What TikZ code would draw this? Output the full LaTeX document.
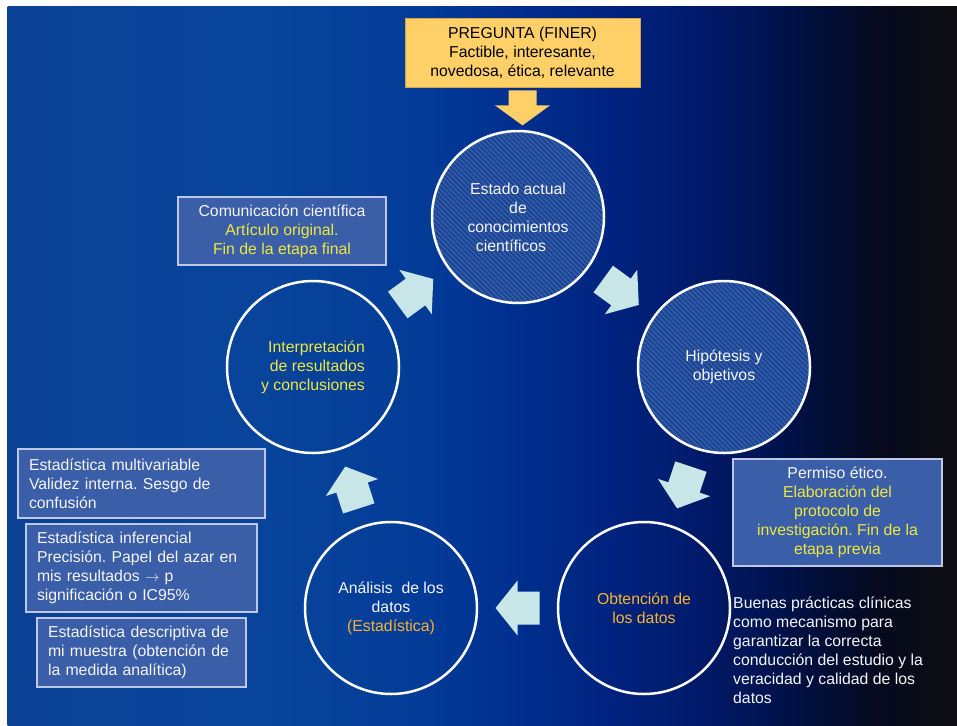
\documentclass[tikz,border=0pt]{standalone}
\usepackage{fontspec}
\setmainfont{Liberation Sans}
\frenchspacing
\usetikzlibrary{calc}
\definecolor{boxfill}{RGB}{58,94,167}
\definecolor{boxline}{RGB}{190,200,228}
\definecolor{ylw}{RGB}{238,232,64}
\definecolor{org}{RGB}{245,180,50}
\definecolor{qfill}{RGB}{255,208,104}
\definecolor{qline}{RGB}{215,165,70}
\definecolor{arrowc}{RGB}{200,230,232}
\definecolor{hatchfill}{RGB}{24,68,150}
\definecolor{txtw}{RGB}{245,245,250}
\newcommand\bgseg[4]{%
  \definecolor{segL}{RGB}{#3}\definecolor{segR}{RGB}{#4}%
  \shade[left color=segL, right color=segR] (#1-0.3,7) rectangle (#2+0.3,725);}
\newcommand\cyclearrow[3]{%
  \coordinate (#3m) at ($(#1)!0.5!(#2)$);
  \coordinate (#3e) at ($(#3m)!22pt!180:(#2)$);
  \fill[cyclearr] ($(#3e)!16.5pt!90:(#3m)$) -- ($(#3m)!16.5pt!90:(#2)$)
    -- ($(#3m)!27.5pt!90:(#2)$) -- ($(#3m)!22pt!(#2)$)
    -- ($(#3m)!27.5pt!-90:(#2)$) -- ($(#3m)!16.5pt!-90:(#2)$)
    -- ($(#3e)!16.5pt!-90:(#3m)$) -- cycle;}
\begin{document}
\begin{tikzpicture}[x=1pt,y=-1pt,
  every node/.style={font=\fontsize{15.8}{19}\selectfont, text=txtw, inner sep=0pt},
  stage/.style={circle, draw=white, line width=2.5pt, minimum size=172pt, align=center},
  hatched/.style={fill=hatchfill, path picture={
     \foreach \k in {-260,-255,...,260}
       \draw[white, opacity=.15, line width=1.4pt]
         ([shift={(\k-130,-130)}]path picture bounding box.center) -- ++(260,260);}},
  infobox/.style={draw=boxline, line width=1.2pt, fill=boxfill, inner xsep=11pt},
  question/.style={draw=qline, line width=0.8pt, fill=qfill, text=black, align=center},
  cyclearr/.style={fill=arrowc},
  qarrow/.style={fill=qfill}
]
\useasboundingbox (0,0) rectangle (957,725);
\fill[white] (0,0) rectangle (957,725);
% background gradient
\bgseg{8}{260}{11,66,150}{8,68,155}
\bgseg{260}{420}{8,68,155}{3,60,152}
\bgseg{420}{520}{3,60,152}{0,46,142}
\bgseg{520}{620}{0,46,142}{0,34,125}
\bgseg{620}{700}{0,34,125}{0,26,105}
\bgseg{700}{770}{0,26,105}{0,19,80}
\bgseg{770}{830}{0,19,80}{0,13,52}
\bgseg{830}{880}{0,13,52}{6,10,30}
\bgseg{880}{957}{6,10,30}{14,13,17}

% stages
\node[stage, hatched] (c1) at (518,217) {Estado actual\\de\\conocimientos\\científicos\rule{14pt}{0pt}};
\node[stage, hatched] (c2) at (724,367) {Hipótesis y\\objetivos};
\node[stage, text=org] (c3) at (644,608) {Obtención de\\los datos};
\node[stage] (c4) at (391,608) {Análisis\ \ de los\\datos\\{\color{org}(Estadística)}};
\node[stage, text=ylw, align=right] (c5) at (313,367) {Interpretación\\de resultados\\y conclusiones};

% cycle arrows
\cyclearrow{c1}{c2}{a12}
\cyclearrow{c2}{c3}{a23}
\cyclearrow{c3}{c4}{a34}
\cyclearrow{c4}{c5}{a45}
\cyclearrow{c5}{c1}{a51}

% question box and arrow
\node[question, minimum width=235pt, minimum height=69pt] (q) at (522.5,52.5)
  {PREGUNTA (FINER)\\Factible, interesante,\\novedosa, ética, relevante};
\fill[qarrow] ($(q.south)+(-14,3)$) -- ($(q.south)+(14,3)$) -- ($(q.south)+(14,18)$)
  -- ($(q.south)+(27.5,18)$) -- ($(q.south)+(0,38)$) -- ($(q.south)+(-27.5,18)$)
  -- ($(q.south)+(-14,18)$) -- cycle;

% info boxes
\node[infobox, minimum width=208pt, minimum height=68pt, align=center] (com) at (282,231)
  {Comunicación científica\\{\color{ylw}Artículo original.}\\{\color{ylw}Fin de la etapa final}};
\node[infobox, minimum width=209pt, minimum height=107pt, align=center] (perm) at (837.5,512.5)
  {Permiso ético.\\{\color{ylw}Elaboración del}\\{\color{ylw}protocolo de}\\{\color{ylw}investigación. Fin de la}\\{\color{ylw}etapa previa}};
\node[infobox, minimum height=69pt, text width=225pt, align=left] (sa) at (141.5,483.5)
  {Estadística multivariable\\Validez interna. Sesgo de\\confusión};
\node[infobox, minimum height=88pt, text width=209pt, align=left] (sb) at (141.5,568)
  {Estadística inferencial\\Precisión. Papel del azar en\\mis resultados $\rightarrow$ p\\significación o IC95\%};
\node[infobox, minimum height=69pt, text width=187pt, align=left] (sc) at (141.5,652.5)
  {Estadística descriptiva de\\mi muestra (obtención de\\la medida analítica)};
\node[anchor=west, align=left] (bp) at (733,650)
  {Buenas prácticas clínicas\\como mecanismo para\\garantizar la correcta\\conducción del estudio y la\\veracidad y calidad de los\\datos};
\end{tikzpicture}
\end{document}
